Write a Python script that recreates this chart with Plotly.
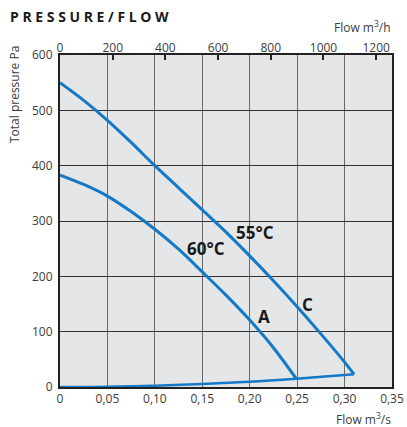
import plotly.graph_objects as go

# Curve C (55°C): flow m3/s vs total pressure Pa
flow_c = [0, 0.025, 0.05, 0.075, 0.10, 0.125, 0.15, 0.175, 0.20, 0.225, 0.25, 0.275, 0.30, 0.31]
pres_c = [550, 518, 482, 442, 400, 360, 320, 280, 237, 192, 145, 96, 45, 23]

# Curve A (60°C)
flow_a = [0, 0.025, 0.05, 0.075, 0.10, 0.125, 0.15, 0.175, 0.20, 0.225, 0.249]
pres_a = [383, 366, 345, 317, 285, 249, 208, 166, 121, 71, 15]

# System curve
flow_s = [0, 0.05, 0.10, 0.15, 0.20, 0.249, 0.31]
pres_s = [0, 0.6, 2.4, 5.5, 9.5, 15, 23]

x_ticks = [0, 0.05, 0.10, 0.15, 0.20, 0.25, 0.30, 0.35]
x_ticktext = ["0", "0,05", "0,10", "0,15", "0,20", "0,25", "0,30", "0,35"]
x2_ticks = [0, 200, 400, 600, 800, 1000, 1200]
y_ticks = [0, 100, 200, 300, 400, 500, 600]

labels = ["55°C", "60°C", "C", "A"]
label_x = [0.2051, 0.1536, 0.2609, 0.2146]
label_y = [280, 251, 150, 128]

blue = "#1479c6"
font = "Open Sans"

fig = go.Figure()
fig.add_trace(go.Scatter(x=flow_c, y=pres_c, mode="lines", line=dict(color=blue, width=3, shape="spline"), hoverinfo="skip"))
fig.add_trace(go.Scatter(x=flow_a, y=pres_a, mode="lines", line=dict(color=blue, width=3, shape="spline"), hoverinfo="skip"))
fig.add_trace(go.Scatter(x=flow_s, y=pres_s, mode="lines", line=dict(color=blue, width=2.5, shape="spline"), hoverinfo="skip"))
fig.add_trace(go.Scatter(x=[v * 3600 for v in flow_s], y=pres_s, xaxis="x2", mode="lines",
                         line=dict(width=0), opacity=0, hoverinfo="skip"))

for t, xv, yv in zip(labels, label_x, label_y):
    fig.add_annotation(x=xv, y=yv, xref="x", yref="y", text=t, showarrow=False,
                       font=dict(family=font, size=17, color="#1a1a1a", weight="bold"))

axfont = dict(family=font, size=12, color="#3c3c3c")
common = dict(showline=True, linecolor="#222222", linewidth=2, mirror=True, zeroline=False, automargin=False)

fig.update_layout(
    width=407, height=427,
    margin=dict(l=60, r=15, t=55, b=40, autoexpand=False),
    paper_bgcolor="white", plot_bgcolor="#e5e6e7",
    showlegend=False,
    xaxis=dict(range=[0, 0.35], tickvals=x_ticks, ticktext=x_ticktext, showgrid=True,
               gridcolor="#6a6a6a", gridwidth=1.2, ticks="", tickfont=axfont, **common),
    xaxis2=dict(range=[0, 1260], tickvals=x2_ticks, overlaying="x", side="top", anchor="y",
                showgrid=False, ticks="inside", ticklen=5, tickwidth=2, tickcolor="#222222",
                tickfont=axfont, showline=False, zeroline=False, automargin=False),
    yaxis=dict(range=[0, 600], tickvals=y_ticks, showgrid=True, gridcolor="#333333", gridwidth=1,
               ticks="", tickfont=axfont, ticklabelstandoff=3, **common),
)

# annotations placed in paper coordinates derived from pixel positions
def px(xp):
    return (xp - 60) / 332.0

def py(yp):
    return (387 - yp) / 332.0

fig.add_annotation(x=px(8), y=py(17), xref="paper", yref="paper", text="P R E S S U R E / F L O W",
                   showarrow=False, xanchor="left", yanchor="middle",
                   font=dict(family=font, size=14, color="#1a1a1a", weight="bold"))
fig.add_annotation(x=px(393), y=py(27), xref="paper", yref="paper", text="Flow m<sup>3</sup>/h",
                   showarrow=False, xanchor="right", yanchor="middle", font=axfont)
fig.add_annotation(x=px(393), y=py(419), xref="paper", yref="paper", text="Flow m<sup>3</sup>/s",
                   showarrow=False, xanchor="right", yanchor="middle", font=axfont)
fig.add_annotation(x=px(14), y=py(95), xref="paper", yref="paper", text="Total pressure Pa",
                   textangle=-90, showarrow=False, xanchor="center", yanchor="middle", font=axfont)

fig.write_html("out.html", config={"displayModeBar": False},
               post_script="document.body.style.margin='0';document.body.style.overflow='hidden';")
